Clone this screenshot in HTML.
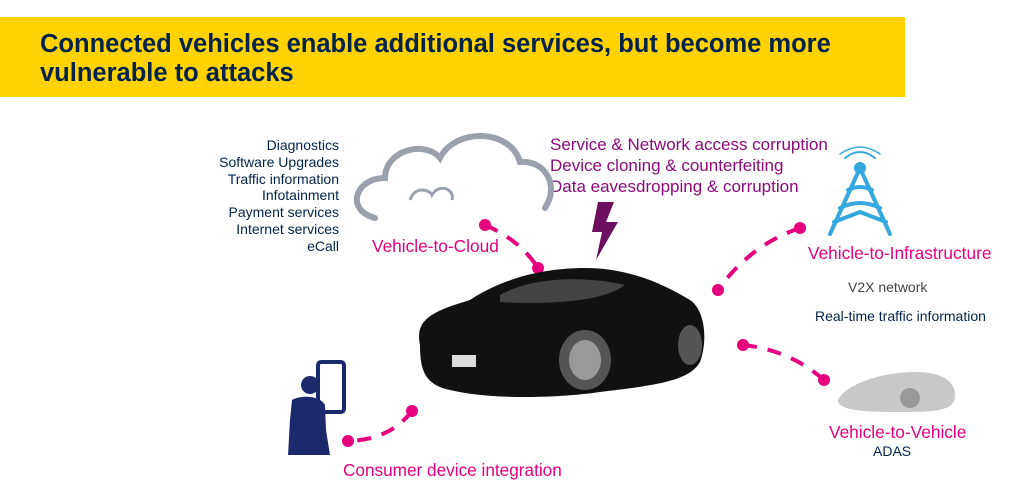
<!DOCTYPE html>
<html><head><meta charset="utf-8"><style>
body{margin:0;width:1009px;height:501px;background:#fff;position:relative;overflow:hidden;font-family:"Liberation Sans",Arial,sans-serif}
.t{position:absolute;white-space:nowrap}
</style></head><body>
<div style="position:absolute;left:0;top:17px;width:905px;height:80px;background:#FFD200"></div>
<div class="t" style="left:40px;top:30px;font-size:25.5px;font-weight:bold;color:#03234B;line-height:29px">Connected vehicles enable additional services, but become more<br>vulnerable to attacks</div>
<div class="t" style="left:180px;top:137px;width:159px;text-align:right;font-size:14px;color:#03234B;line-height:16.8px">Diagnostics<br>Software Upgrades<br>Traffic information<br>Infotainment<br>Payment services<br>Internet services<br>eCall</div>
<div class="t" style="left:550px;top:134px;font-size:17px;color:#8B0A7C;line-height:21px">Service &amp; Network access corruption<br>Device cloning &amp; counterfeiting<br>Data eavesdropping &amp; corruption</div>
<div class="t" style="left:372px;top:236px;font-size:17.3px;color:#E6007E">Vehicle-to-Cloud</div>
<div class="t" style="left:808px;top:243px;font-size:17.3px;color:#E6007E">Vehicle-to-Infrastructure</div>
<div class="t" style="left:848px;top:279px;font-size:14px;color:#444">V2X network</div>
<div class="t" style="left:815px;top:308px;font-size:14px;color:#03234B">Real-time traffic information</div>
<div class="t" style="left:829px;top:422px;font-size:17.3px;color:#E6007E">Vehicle-to-Vehicle</div>
<div class="t" style="left:873px;top:443px;font-size:14px;color:#03234B">ADAS</div>
<div class="t" style="left:343px;top:460px;font-size:17.2px;color:#E6007E">Consumer device integration</div>
<svg width="1009" height="501" style="position:absolute;left:0;top:0">
<path d="M375,218 C345,210 355,178 385,178 C385,150 425,140 440,158 C455,128 510,128 520,162 C545,160 560,185 545,208" fill="none" stroke="#9AA0AC" stroke-width="6" stroke-linecap="round"/>
<path d="M410,200 C415,185 430,190 432,195 C440,182 455,190 452,200" fill="none" stroke="#9AA0AC" stroke-width="3"/>
<polygon points="598,202 614,202 606,222 618,222 596,260 602,232 592,232" fill="#6B0F5E"/>
<g stroke="#35A8E0" stroke-width="4" fill="none" stroke-linecap="round">
<line x1="860" y1="168" x2="830" y2="234"/><line x1="860" y1="168" x2="890" y2="234"/>
<path d="M848,190 Q860,184 872,190"/><path d="M840,208 Q860,198 880,208"/><path d="M834,222 L860,212 L886,222"/>
<path d="M845,158 Q860,146 875,158" stroke-width="2"/><path d="M840,154 Q860,140 880,154" stroke-width="1.5"/>
</g>
<circle cx="860" cy="168" r="6" fill="#35A8E0"/>
<g stroke="#E6007E" stroke-width="4" fill="none" stroke-dasharray="14,11">
<path d="M485,225 Q520,240 538,268"/>
<path d="M800,228 Q750,245 718,290"/>
<path d="M743,345 Q790,350 824,380"/>
<path d="M412,411 Q390,440 348,441"/>
</g>
<g fill="#E6007E"><circle cx="485" cy="225" r="6"/><circle cx="538" cy="268" r="6"/><circle cx="800" cy="228" r="6"/><circle cx="718" cy="290" r="6"/><circle cx="743" cy="345" r="6"/><circle cx="824" cy="380" r="6"/><circle cx="412" cy="411" r="6"/><circle cx="348" cy="441" r="6"/></g>
<path d="M420,345 C415,320 430,312 470,300 C500,280 540,268 585,268 C630,268 665,285 690,300 C705,310 708,340 700,362 C690,380 660,385 600,392 C560,398 490,400 450,390 C425,385 420,370 420,345 Z" fill="#111"/>
<path d="M500,295 C530,278 580,275 625,285 C605,300 560,305 500,302 Z" fill="#444"/>
<ellipse cx="585" cy="360" rx="26" ry="30" fill="#555"/><ellipse cx="585" cy="360" rx="16" ry="20" fill="#999"/>
<ellipse cx="690" cy="345" rx="12" ry="20" fill="#555"/>
<rect x="452" y="355" width="24" height="12" fill="#ddd"/>
<path d="M838,400 C845,385 880,372 915,372 C940,372 955,380 955,395 C955,410 940,412 900,412 C860,412 838,410 838,400 Z" fill="#c8c8c8"/>
<circle cx="910" cy="398" r="10" fill="#999"/>
<rect x="318" y="362" width="26" height="50" rx="3" fill="#fff" stroke="#1A2A6C" stroke-width="4"/>
<circle cx="310" cy="385" r="9" fill="#1A2A6C"/>
<path d="M292,400 C300,395 320,395 325,405 L326,430 L330,455 L288,455 L290,420 Z" fill="#1A2A6C"/>
</svg>
</body></html>
